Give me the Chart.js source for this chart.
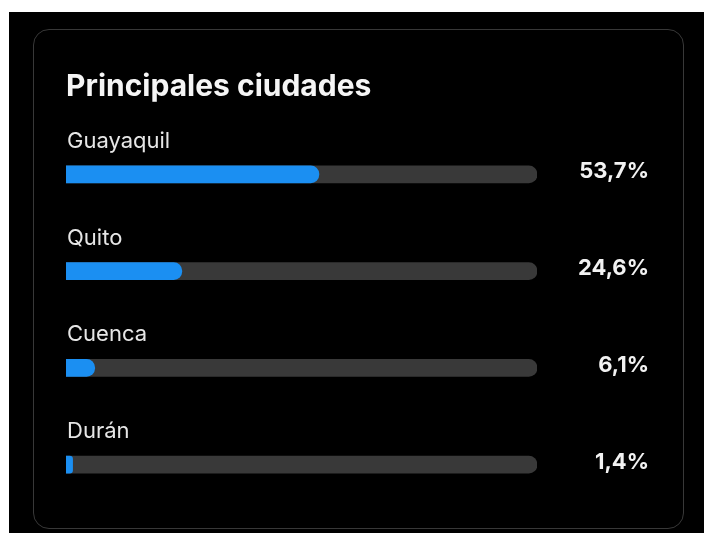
<!DOCTYPE html>
<html>
<head>
  <meta charset="UTF-8">
  <title>Principales ciudades</title>
  <script src="https://cdn.jsdelivr.net/npm/chart.js"></script>
  <style>
    html, body { margin: 0; padding: 0; background: #fff; overflow: hidden; }
    #fondo { position: absolute; left: 9px; top: 12px; right: 0; bottom: 0; background: #000; }
    #tarjeta {
      position: absolute; left: 33px; top: 29px; width: 651px; height: 500px;
      box-sizing: border-box; border: 1.5px solid #383838; border-radius: 16px;
    }
    #grafico { position: absolute; left: 0; top: 0; }
  </style>
</head>
<body>
<div id="fondo"></div>
<div id="tarjeta"></div>
<canvas id="grafico" width="704" height="533"></canvas>

<script>
  // Ciudades y su porcentaje
  const ciudades = ['Guayaquil', 'Quito', 'Cuenca', 'Durán'];
  const porcentajes = [53.7, 24.6, 6.1, 1.4];
  const maximo = 100;

  const fuente = 'Inter, "Noto Sans", sans-serif';

  // Nombre encima de cada barra y porcentaje a la derecha
  const etiquetas = {
    id: 'etiquetas',
    afterDatasetsDraw(chart) {
      const ctx = chart.ctx;
      const meta = chart.getDatasetMeta(1);
      ctx.save();
      ctx.textBaseline = 'alphabetic';
      meta.data.forEach((barra, i) => {
        const alto = barra.height;
        ctx.fillStyle = '#e6e6e6';
        ctx.font = '400 22px ' + fuente;
        ctx.textAlign = 'left';
        ctx.fillText(ciudades[i], chart.chartArea.left + 1, barra.y - alto / 2 - 18);

        ctx.fillStyle = '#f2f2f2';
        ctx.font = '700 22px ' + fuente;
        ctx.textAlign = 'right';
        const texto = porcentajes[i].toFixed(1).replace('.', ',') + '%';
        ctx.fillText(texto, 649, barra.y + 4);
      });
      ctx.restore();
    }
  };

  new Chart(document.getElementById('grafico'), {
    type: 'bar',
    data: {
      labels: ciudades,
      datasets: [
        {
          label: 'fondo',
          data: ciudades.map(() => maximo),
          backgroundColor: '#393939',
          borderRadius: 9,
          barThickness: 17,
          grouped: false,
          order: 2
        },
        {
          label: 'porcentaje',
          data: porcentajes,
          backgroundColor: '#1b8ff2',
          borderRadius: 9,
          barThickness: 17,
          grouped: false,
          order: 1
        }
      ]
    },
    options: {
      indexAxis: 'y',
      responsive: false,
      animation: false,
      layout: { padding: { left: 66, right: 167, top: 0, bottom: 20 } },
      scales: {
        x: { display: false, min: 0, max: maximo },
        y: { display: false }
      },
      plugins: {
        legend: { display: false },
        tooltip: { enabled: false },
        title: {
          display: true,
          text: 'Principales ciudades',
          align: 'start',
          color: '#f5f5f5',
          font: { family: fuente, size: 30, weight: 'bold', lineHeight: 1.2 },
          padding: { top: 69, bottom: 21 }
        }
      }
    },
    plugins: [etiquetas]
  });
</script>
</body>
</html>
